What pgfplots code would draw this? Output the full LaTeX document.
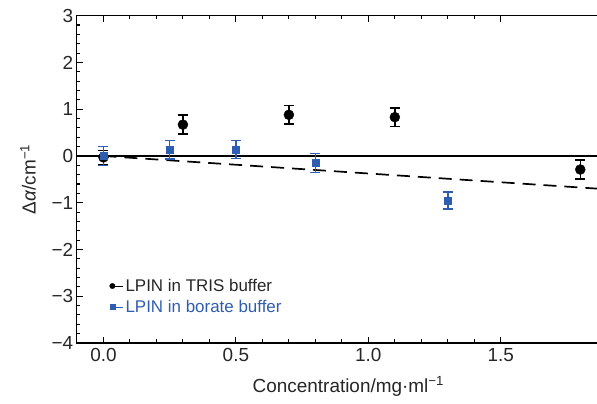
\documentclass[border=0pt]{standalone}
\usepackage{pgfplots}
\pgfplotsset{compat=1.18}
\usepackage{fontspec}
\setmainfont{Liberation Sans}
\definecolor{bblue}{HTML}{2F5DAF}
\begin{document}
\begin{tikzpicture}
\begin{axis}[
  name=ax,
  scale only axis,
  width=543.3bp, height=327.3bp,
  xmin=-0.101, xmax=1.95,
  ymin=-4, ymax=3,
  axis line style={line width=1.2pt},
  tick align=inside,
  major tick length=6bp, minor tick length=3.5bp,
  tick style={line width=1.1pt, black},
  xtick={0,0.5,1,1.5},
  xticklabels={0.0,0.5,1.0,1.5},
  minor x tick num=4,
  ytick={-4,-3,-2,-1,0,1,2,3},
  yticklabels={−4,−3,−2,−1,0,1,2,3},
  minor y tick num=4,
  ticklabel style={font=\fontsize{19}{22}\selectfont, text=black!85},
  xticklabel style={yshift=-2bp},
  xlabel={Concentration/mg·ml\textsuperscript{−1}},
  ylabel={Δ\textit{α}/cm\textsuperscript{−1}},
  label style={font=\fontsize{19}{22}\selectfont, text=black!85},
  xlabel shift=8bp,
  ylabel shift=9bp,
  legend style={draw=none, fill=none, at={(axis cs:0.022,-3.42)}, anchor=south west,
    font=\fontsize{17}{20}\selectfont, row sep=3bp, inner sep=0pt},
  legend cell align=left,
]
\addplot[black, line width=1.2pt, forget plot] coordinates {(-0.101,0) (1.95,0)};
\addplot[black, line width=1.7pt, dash pattern=on 13bp off 8bp, forget plot] coordinates {(0,0) (1.95,-0.731)};
\addplot[only marks, black, mark=*, mark size=5bp,
  legend image code/.code={\fill[black] (0bp,0bp) circle (2.7bp); \path (0bp,0bp) -- (11bp,0bp);},
  error bars/.cd, y dir=both, y explicit,
  error bar style={line width=1.5pt},
  error mark options={rotate=90, mark size=5bp, line width=1.6pt}]
  coordinates {
  (0,-0.03) +- (0,0.15)
  (0.3,0.67) +- (0,0.2)
  (0.7,0.88) +- (0,0.2)
  (1.1,0.83) +- (0,0.2)
  (1.8,-0.29) +- (0,0.2)
  };
\addlegendentry{\textcolor{black!85}{LPIN in TRIS buffer}}
\addplot[only marks, bblue, mark=square*, mark size=3.5bp,
  legend image code/.code={\fill[bblue] (-2.6bp,-2.6bp) rectangle (2.6bp,2.6bp); \path (0bp,0bp) -- (11bp,0bp);},
  error bars/.cd, y dir=both, y explicit,
  error bar style={line width=1.5pt},
  error mark options={rotate=90, mark size=5bp, line width=1.6pt}]
  coordinates {
  (0,0.0) +- (0,0.2)
  (0.25,0.13) +- (0,0.2)
  (0.5,0.14) +- (0,0.19)
  (0.8,-0.15) +- (0,0.2)
  (1.3,-0.95) +- (0,0.18)
  };
\addlegendentry{\textcolor{bblue}{LPIN in borate buffer}}
\end{axis}
\pgfresetboundingbox
\path[use as bounding box] ([xshift=-76.7bp,yshift=-61bp]ax.south west) rectangle ([xshift=520.3bp,yshift=15.7bp]ax.north west);
\end{tikzpicture}
\end{document}
